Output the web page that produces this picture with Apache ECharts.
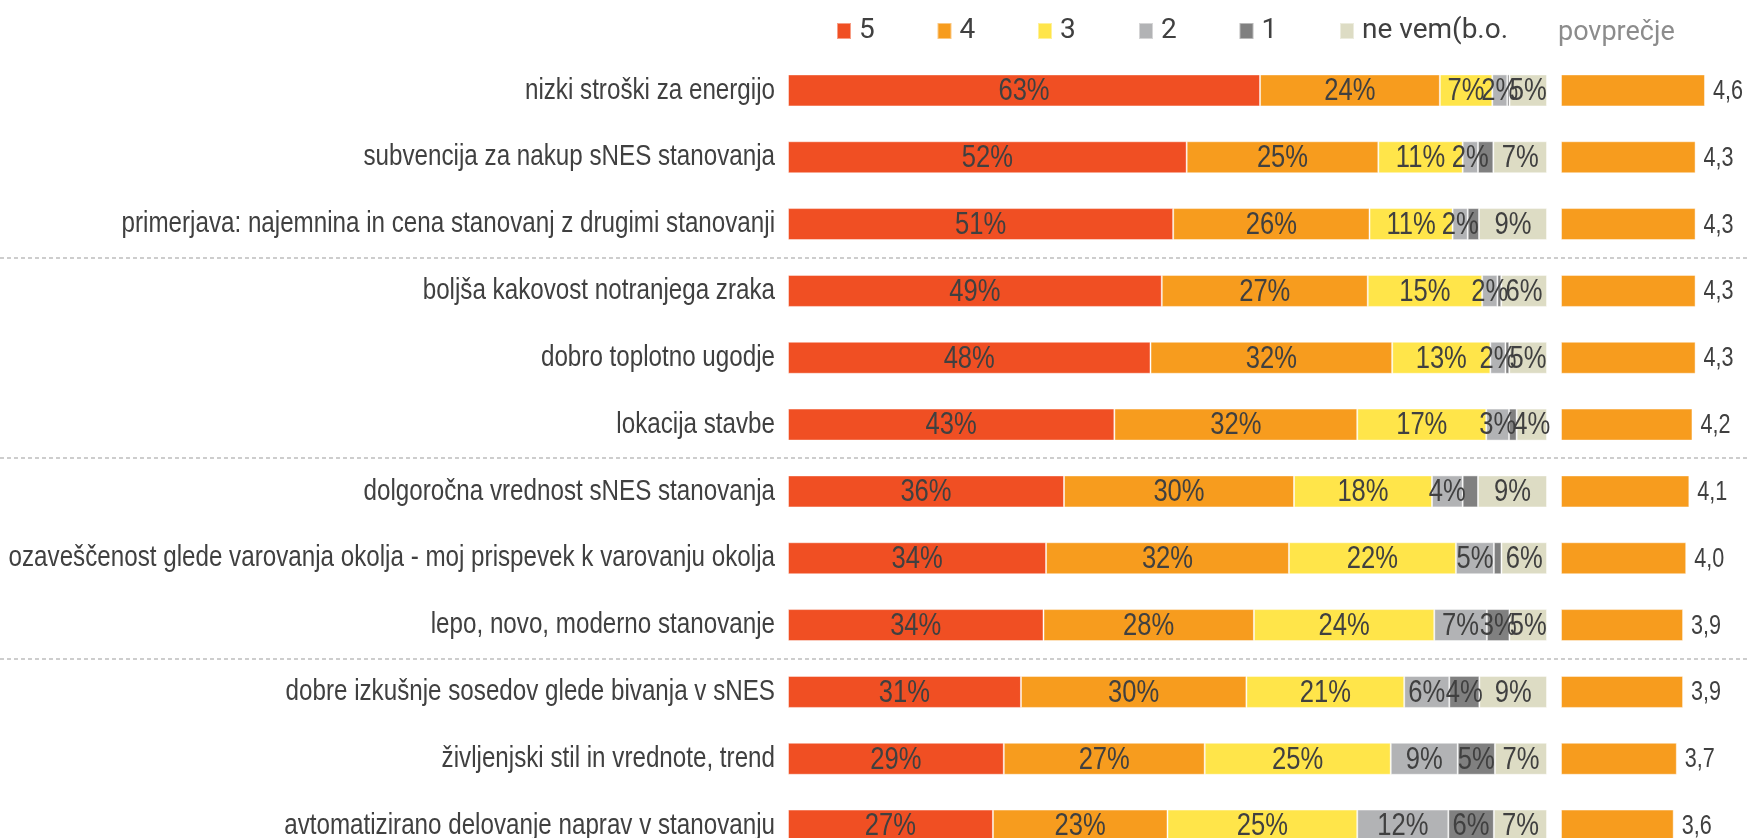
<!DOCTYPE html>
<html>
<head>
<meta charset="utf-8">
<script src="https://cdn.jsdelivr.net/npm/echarts@6/dist/echarts.min.js"></script>
<style>
html,body{margin:0;padding:0;background:#fff;}
#chart{width:1748px;height:838px;}
</style>
</head>
<body>
<div id="chart"></div>
<script>
// ---- data ----
const categories = [
  'nizki stroški za energijo',
  'subvencija za nakup sNES stanovanja',
  'primerjava: najemnina in cena stanovanj z drugimi stanovanji',
  'boljša kakovost notranjega zraka',
  'dobro toplotno ugodje',
  'lokacija stavbe',
  'dolgoročna vrednost sNES stanovanja',
  'ozaveščenost glede varovanja okolja - moj prispevek k varovanju okolja',
  'lepo, novo, moderno stanovanje',
  'dobre izkušnje sosedov glede bivanja v sNES',
  'življenjski stil in vrednote, trend',
  'avtomatizirano delovanje naprav v stanovanju'
];
const seriesNames = ['5', '4', '3', '2', '1', 'ne vem(b.o.'];
const pct5  = [63, 52, 51, 49, 48, 43, 36, 34, 34, 31, 29, 27];
const pct4  = [24, 25, 26, 27, 32, 32, 30, 32, 28, 30, 27, 23];
const pct3  = [7, 11, 11, 15, 13, 17, 18, 22, 24, 21, 25, 25];
const pct2  = [2, 2, 2, 2, 2, 3, 4, 5, 7, 6, 9, 12];
const pct1  = [0.3, 2, 1.5, 0.5, 0.5, 1, 2, 1, 3, 4, 5, 6];
const pctNv = [5, 7, 9, 6, 5, 4, 9, 6, 5, 9, 7, 7];
const averages = [4.6, 4.3, 4.3, 4.3, 4.3, 4.2, 4.1, 4.0, 3.9, 3.9, 3.7, 3.6];
const avgTitle = 'povprečje';

// ---- styling ----
const colors = ['#F04F23', '#F79C1E', '#FFE54A', '#B2B3B5', '#808080', '#DDDCC4'];
const avgColor = '#F79C1E';
const sans = "'Liberation Sans', Arial, sans-serif";
const rob = "Roboto, 'Liberation Sans', sans-serif";
const txt = '#404040';

const allPct = [pct5, pct4, pct3, pct2, pct1, pctNv];
const rowSums = categories.map((_, i) => allPct.reduce((s, a) => s + a[i], 0));
const minLabel = [0, 0, 0, 0, 3, 0];
const normPct = allPct.map(arr => arr.map((v, i) => v / rowSums[i] * 100));

// label table: [segment middle (in %), row index, series index]
const segLabels = [];
normPct.forEach((arr, k) => {
  arr.forEach((v, i) => {
    let start = 0;
    for (let j = 0; j < k; j++) start += normPct[j][i];
    segLabels.push([start + v / 2, i, k]);
  });
});

const GRID_TOP = 57, GRID_H = 802;

const series = normPct.map((arr, k) => ({
  name: seriesNames[k],
  type: 'bar',
  stack: 'total',
  xAxisIndex: 0, yAxisIndex: 0,
  barWidth: 32,
  z: 2,
  itemStyle: { color: colors[k], borderColor: 'rgba(255,255,255,0.45)', borderWidth: 1 },
  emphasis: { disabled: true },
  data: arr
}));

series.push({
  name: avgTitle,
  type: 'bar',
  xAxisIndex: 1, yAxisIndex: 1,
  barWidth: 32,
  z: 2,
  itemStyle: { color: avgColor, borderColor: 'rgba(255,255,255,0.45)', borderWidth: 1 },
  emphasis: { disabled: true },
  data: averages
});

// condensed text helper
function condensedText(x, y, text, size, align, sx) {
  return {
    type: 'text', x: x, y: y, scaleX: sx, z2: 100,
    style: { text: text, align: align, verticalAlign: 'middle', font: size + 'px ' + sans, fill: txt }
  };
}

// category labels
series.push({
  name: 'categoryLabels',
  type: 'custom',
  xAxisIndex: 0, yAxisIndex: 0,
  clip: false, silent: true, z: 10,
  encode: { x: 0, y: 1 },
  data: categories.map((c, i) => [0, i]),
  renderItem: (params, api) => {
    const p = api.coord([0, api.value(1)]);
    return condensedText(p[0] - 13, p[1], categories[params.dataIndex], 29.5, 'right', 0.82);
  }
});

// percentage labels inside the stacked bars
series.push({
  name: 'segmentLabels',
  type: 'custom',
  xAxisIndex: 0, yAxisIndex: 0,
  clip: false, silent: true, z: 10,
  encode: { x: 0, y: 1 },
  data: segLabels,
  renderItem: (params, api) => {
    const d = segLabels[params.dataIndex];
    const raw = allPct[d[2]][d[1]];
    if (raw < 1 || raw < minLabel[d[2]]) return null;
    const p = api.coord([d[0], d[1]]);
    return condensedText(p[0], p[1] + 1, Math.round(raw) + '%', 32, 'center', 0.8);
  }
});

// average value labels
series.push({
  name: 'avgLabels',
  type: 'custom',
  xAxisIndex: 1, yAxisIndex: 1,
  clip: false, silent: true, z: 10,
  encode: { x: 0, y: 1 },
  data: averages.map((v, i) => [v, i]),
  renderItem: (params, api) => {
    const p = api.coord([api.value(0), api.value(1)]);
    const t = averages[params.dataIndex].toFixed(1).replace('.', ',');
    return condensedText(p[0] + 8, p[1] + 1, t, 27, 'left', 0.8);
  }
});

const legendLeft = [831, 931.5, 1032, 1133, 1233.5, 1334];
const legends = seriesNames.map((n, k) => ({
  data: [n],
  left: legendLeft[k],
  top: 11,
  icon: 'rect',
  itemWidth: 14,
  itemHeight: 16,
  selectedMode: false,
  textStyle: { fontFamily: rob, fontSize: 28, color: txt, lineHeight: 30, padding: [0, 0, 0, 3] }
}));

const option = {
  animation: false,
  backgroundColor: '#fff',
  title: {
    text: avgTitle,
    left: 1558,
    top: 17,
    padding: 0,
    textStyle: { fontFamily: rob, fontSize: 27, fontWeight: 'normal', color: '#8C8C8C', lineHeight: 32 }
  },
  legend: legends,
  grid: [
    { left: 788, width: 759, top: GRID_TOP, height: GRID_H, outerBoundsMode: 'none', containLabel: false },
    { left: 1561, width: 156.5, top: GRID_TOP, height: GRID_H, outerBoundsMode: 'none', containLabel: false },
    { left: 0, width: 1748, top: GRID_TOP, height: GRID_H, outerBoundsMode: 'none', containLabel: false }
  ],
  xAxis: [
    { gridIndex: 0, type: 'value', min: 0, max: 100, show: false },
    { gridIndex: 1, type: 'value', min: 0, max: 5, show: false },
    { gridIndex: 2, type: 'value', min: 0, max: 1, show: false }
  ],
  yAxis: [
    {
      gridIndex: 0, type: 'category', data: categories, inverse: true,
      axisLine: { show: false }, axisTick: { show: false }, axisLabel: { show: false }
    },
    {
      gridIndex: 1, type: 'category', data: categories, inverse: true,
      axisLine: { show: false }, axisTick: { show: false }, axisLabel: { show: false }
    },
    {
      gridIndex: 2, type: 'category', data: categories, inverse: true,
      axisLine: { show: false }, axisTick: { show: false }, axisLabel: { show: false },
      splitLine: {
        show: true,
        interval: (i) => i === 3 || i === 6 || i === 9,
        lineStyle: { color: '#BDBDBD', type: [4, 3], width: 1.5 }
      }
    }
  ],
  series: series
};

const chart = echarts.init(document.getElementById('chart'), null, { renderer: 'canvas' });
chart.setOption(option);
</script>
</body>
</html>
